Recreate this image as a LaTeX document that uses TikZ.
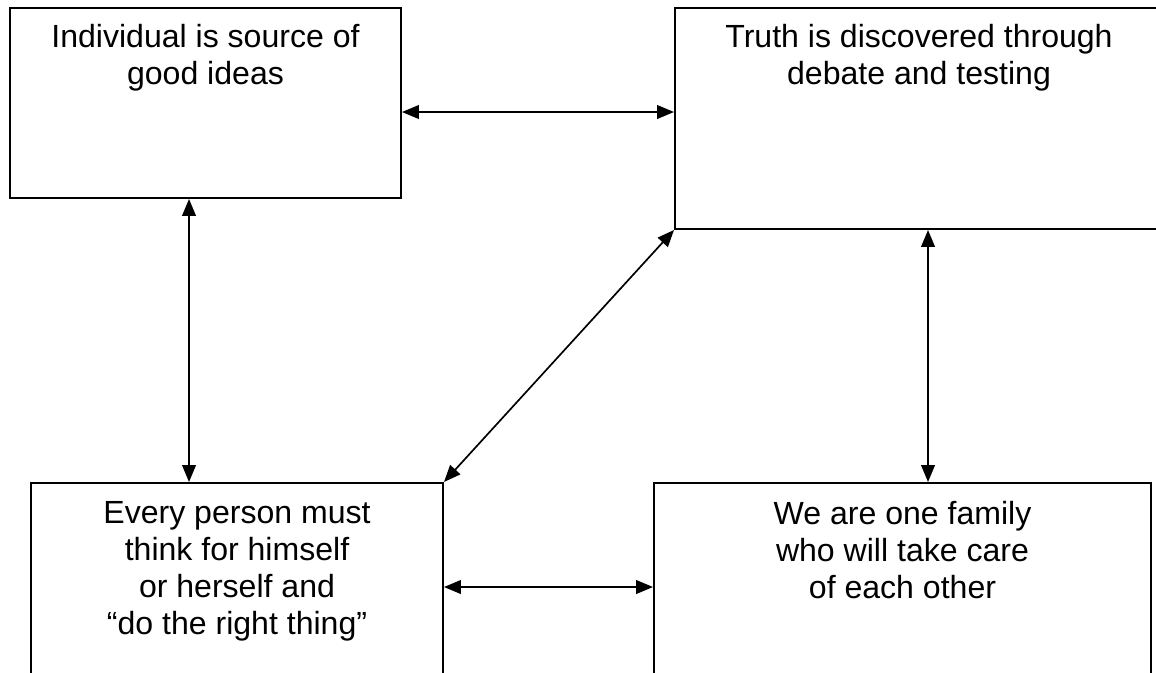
\documentclass[tikz,border=0pt]{standalone}
\usepackage{fontspec}
\setmainfont{Liberation Sans}
\usetikzlibrary{arrows.meta,positioning}
\tikzset{
  ideabox/.style={draw=black, line width=1.4pt, minimum height=4.75cm, inner sep=0pt},
  ideatext/.style={font=\fontsize{22.8}{26.3}\selectfont, align=center, inner sep=0pt},
  link/.style={{Triangle[length=0.42cm,width=0.34cm]}-{Triangle[length=0.42cm,width=0.34cm]}, line width=1.2pt}
}
\begin{document}
\begin{tikzpicture}
\useasboundingbox (0,0) rectangle (28.9,16.8);

% === boxes ===
\node[ideabox, minimum width=9.775cm] (indiv) at (5.1375,14.225) {};
\node[ideabox, minimum width=12.2cm, minimum height=5.525cm] (truth) at (22.975,13.8375) {};
\node[ideabox, minimum width=10.3cm, minimum height=5.25cm] (person) at (5.925,2.1) {};
\node[ideabox, minimum width=12.425cm, minimum height=5.25cm] (family) at (22.5625,2.1) {};

% === texts ===
\node[ideatext, below=0.42cm of indiv.north] (indivtxt) {Individual is source of\\good ideas};
\node[ideatext, below=0.42cm of truth.north] (truthtxt) {Truth is discovered through\\debate and testing};
\node[ideatext, below=0.47cm of person.north] (persontxt) {Every person must\\think for himself\\or herself and\\“do the right thing”};
\node[ideatext, below=0.47cm of family.north] (familytxt) {We are one family\\who will take care\\of each other};

% === connectors ===
\draw[link] ([yshift=-2.625cm]indiv.north east) -- ([yshift=-2.625cm]truth.north west);
\draw[link] ([xshift=4.5cm]indiv.south west) -- ([xshift=3.975cm]person.north west);
\draw[link] ([xshift=6.35cm]truth.south west) -- ([xshift=6.875cm]family.north west);
\draw[link] (truth.south west) -- (person.north east);
\draw[link] ([yshift=-2.625cm]person.north east) -- ([yshift=-2.625cm]family.north west);

\end{tikzpicture}
\end{document}
